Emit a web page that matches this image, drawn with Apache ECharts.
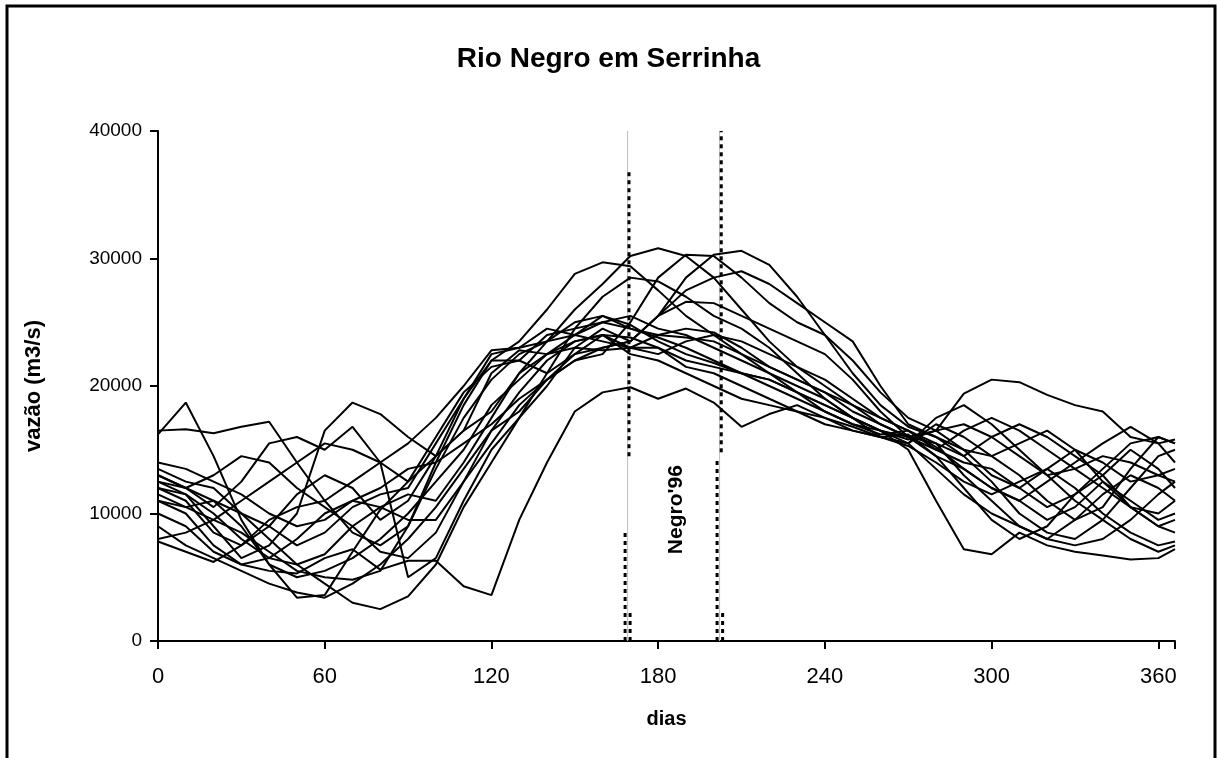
<!DOCTYPE html>
<html>
<head>
<meta charset="utf-8">
<script src="https://cdn.jsdelivr.net/npm/echarts@6/dist/echarts.min.js"></script>
<style>
html,body{margin:0;padding:0;background:#fff;}
#chart{width:1217px;height:758px;}
</style>
</head>
<body>
<div id="chart"></div>
<script>
const title = "Rio Negro em Serrinha";
const xName = "dias";
const yName = "vazão (m3/s)";
const xTicks = [0, 60, 120, 180, 240, 300, 360];
const yTicks = [0, 10000, 20000, 30000, 40000];
const days = [0,10,20,30,40,50,60,70,80,90,100,110,120,130,140,150,160,170,180,190,200,210,220,230,240,250,260,270,280,290,300,310,320,330,340,350,360,366];

const y1  = [16200,18700,14500,9500,6000,3400,3600,7000,10300,12500,14500,19000,22500,23000,24500,24000,25500,24800,23500,22500,21800,21000,20000,19000,18000,17000,16200,16500,15200,13500,12000,11000,9500,10500,12500,11000,9500,10000];
const y2  = [16500,16600,16300,16800,17200,14000,11000,8500,7500,9000,13500,17500,20500,22500,23500,25000,25500,24500,24000,23800,23500,22500,21000,19500,18500,17500,16500,15800,16500,15000,13000,12000,13500,15000,14000,12500,13000,12500];
const y3  = [12500,11500,9000,6500,7500,10000,16500,18700,17800,16000,14500,16500,21000,22800,22500,23500,24000,23000,23000,21500,21000,20000,19000,18000,17500,16500,16000,15500,17000,16000,14500,13000,11000,9500,10500,13500,16000,15500];
const y4  = [13000,12000,10500,12500,15500,16000,15000,16800,14000,5000,6500,11000,15000,17500,20000,23000,24500,23500,25500,28500,30300,30600,29500,27000,24000,21000,18500,16800,16000,14500,12500,10000,8500,8000,9500,12000,14500,15000];
const y5  = [10000,9000,7000,6000,5500,5300,6500,7200,5600,6300,6300,4300,3600,9500,14000,18000,19500,19900,19000,19800,18700,16800,17800,18500,17500,16800,16000,15300,14000,12500,11500,12500,13500,12000,10000,8500,7500,7800];
const y6  = [12000,11000,8500,7500,9000,11500,13000,12000,9500,11000,14500,16500,18000,21000,23500,26000,28000,30200,30800,30200,28500,26000,23500,21500,20000,18500,17000,16000,15000,16500,17500,16500,15000,13500,12000,10500,10000,11000];
const y7  = [11500,10500,9500,8500,7000,5500,5000,4800,5500,9000,14000,18500,22000,23500,26000,28800,29700,29400,27500,25500,24000,22500,21500,20500,19500,18000,17000,16000,14500,13500,12000,11000,12500,14000,15500,16800,15500,14000];
const y8  = [9000,7500,6500,5500,4500,3800,3400,4500,6000,8000,10500,13500,16500,18000,20500,22000,22500,25000,28500,30300,30200,28500,26500,25000,24000,22000,19500,17500,16500,17000,16000,14500,13000,13500,14500,14000,13000,13500];
const y9  = [13500,12500,12000,10000,8000,6000,4500,3000,2500,3500,6000,10500,14000,17500,21000,24500,27000,28500,28200,27000,25500,24500,23000,21000,19000,17500,16500,15500,13500,11500,10000,9000,8000,7500,8000,9500,11500,12500];
const y10 = [11000,10500,11000,10000,9000,7500,8500,10500,11500,12000,15500,19000,22000,22000,21000,22500,24000,23800,23000,22000,21500,21000,20500,19500,18500,17500,16500,16000,16500,19400,20500,20300,19300,18500,18000,16000,15500,15800];
const y11 = [8000,8500,9500,11000,12500,14000,15500,15000,14000,12500,16000,19500,21500,22000,24000,24500,25000,24500,23800,23000,22000,21000,20500,19500,18000,17000,16500,15000,11000,7200,6800,8500,7500,7000,6700,6400,6500,7200];
const y12 = [14000,13500,12500,11500,10000,9000,9500,11000,12000,13500,14000,15500,17000,19000,20500,22500,23000,23500,25500,26600,26500,25500,24500,23500,22500,20500,18000,16000,15500,13000,11000,9000,8000,9500,11500,13000,12000,11000];
const y13 = [12500,12000,13000,14500,14000,12000,10500,9000,7000,6500,8500,12500,15500,18500,20500,22000,23000,23500,25500,27500,28500,29000,28000,26500,25000,23500,20000,17000,16000,15000,14500,15500,16500,15000,12500,10500,9000,9500];
const y14 = [7800,7000,6200,7500,9500,10500,11000,12500,14000,15500,17500,20000,22800,23000,23500,24000,25000,25500,24500,24000,23000,22000,21000,20000,19000,17500,16000,15500,17500,18500,17000,15000,13000,11000,9500,8000,7000,7500];
const y15 = [11000,10000,7500,6000,6500,8000,10000,11000,10500,9500,9500,12500,16500,19500,22000,23500,24000,22500,22000,21000,20000,19000,18500,18000,17000,16500,16000,16200,14500,12000,9500,8000,9000,11500,13500,15500,16000,15500];
const y16 = [13000,12000,11000,9000,6000,5000,5500,6500,8000,10000,12500,15000,18500,20500,22500,24000,23500,23000,22500,23500,24000,23500,22500,21500,20500,19000,17500,16500,15000,14000,13500,12000,10500,11500,13000,15000,13500,12000];
const y17 = [12000,11500,10000,8000,6500,6000,6800,9000,10500,11500,11000,14000,17500,21000,22500,23000,22800,23000,24000,24500,24200,23000,21500,20500,19500,18500,17500,16500,15500,14500,16000,17000,16000,14500,13000,10500,9000,8500];

const years = [y1,y2,y3,y4,y5,y6,y7,y8,y9,y10,y11,y12,y13,y14,y15,y16,y17];

// vertical marker segments (Negro'96 period)
const segDay  = [168.1, 169.9, 169.5, 201.2, 203.2, 202.7];
const segLow  = [0, 0, 14500, 0, 0, 14800];
const segHigh = [8500, 2500, 37000, 14200, 2300, 40000];
const grayDay = [169.0, 202.1];
const labelText = "Negro'96";
const labelDay = 186.5;
const labelValue = 10300;

const FONT = "'Liberation Sans', Arial, sans-serif";
const chart = echarts.init(document.getElementById('chart'), null, {renderer: 'canvas'});

const series = [];
years.forEach((ys, i) => {
  series.push({
    type: 'line', name: 'y' + (i + 1),
    data: days.map((d, k) => [d, ys[k]]),
    showSymbol: false, symbol: 'none', silent: true,
    lineStyle: {color: '#000', width: 2},
    z: 3
  });
});
grayDay.forEach(d => {
  series.push({
    type: 'line', data: [[d, 0], [d, 40000]], showSymbol: false, symbol: 'none',
    lineStyle: {color: '#bdbdbd', width: 1}, z: 2, silent: true
  });
});
segDay.forEach((d, i) => {
  series.push({
    type: 'line', data: [[d, segLow[i]], [d, segHigh[i]]], showSymbol: false, symbol: 'none',
    lineStyle: {color: '#000', width: 3, type: [4, 4]}, z: 4, silent: true
  });
});

chart.setOption({
  animation: false,
  backgroundColor: '#fff',
  textStyle: {fontFamily: FONT},
  title: {
    text: title, left: 'center', top: 40,
    textStyle: {fontFamily: FONT, fontSize: 28, fontWeight: 'bold', color: '#000'}
  },
  grid: {left: 158, right: 42, top: 131, bottom: 117, containLabel: false},
  xAxis: {
    type: 'value', min: 0, max: 366, interval: 60,
    name: xName, nameLocation: 'middle', nameGap: 68,
    nameTextStyle: {fontFamily: FONT, fontSize: 20, fontWeight: 'bold', color: '#000'},
    axisLine: {show: true, lineStyle: {color: '#000', width: 2}},
    axisTick: {show: true, length: 8, lineStyle: {color: '#000', width: 2}},
    axisLabel: {color: '#000', fontSize: 22, margin: 25, fontFamily: FONT,
      formatter: v => xTicks.indexOf(v) >= 0 ? String(v) : ''},
    splitLine: {show: false}
  },
  yAxis: {
    type: 'value', min: 0, max: 40000, interval: 10000,
    name: yName, nameLocation: 'middle', nameGap: 113, nameRotate: 90,
    nameTextStyle: {fontFamily: FONT, fontSize: 22, fontWeight: 'bold', color: '#000'},
    axisLine: {show: true, lineStyle: {color: '#000', width: 2}},
    axisTick: {show: true, length: 8, lineStyle: {color: '#000', width: 2}},
    axisLabel: {color: '#000', fontSize: 19, margin: 16, fontFamily: FONT,
      formatter: v => yTicks.indexOf(v) >= 0 ? String(v) : ''},
    splitLine: {show: false}
  },
  series: series
});

const p = chart.convertToPixel({gridIndex: 0}, [labelDay, labelValue]);
chart.setOption({
  graphic: [
    {type: 'rect', shape: {x: 7, y: 6, width: 1208, height: 760},
     style: {fill: 'none', stroke: '#000', lineWidth: 3}, z: 10, silent: true},
    {type: 'text', x: p[0], y: p[1], rotation: Math.PI / 2,
     style: {text: labelText, font: 'bold 21px ' + FONT, fill: '#000',
       align: 'center', verticalAlign: 'middle'}, z: 10, silent: true}
  ]
});
</script>
</body>
</html>
